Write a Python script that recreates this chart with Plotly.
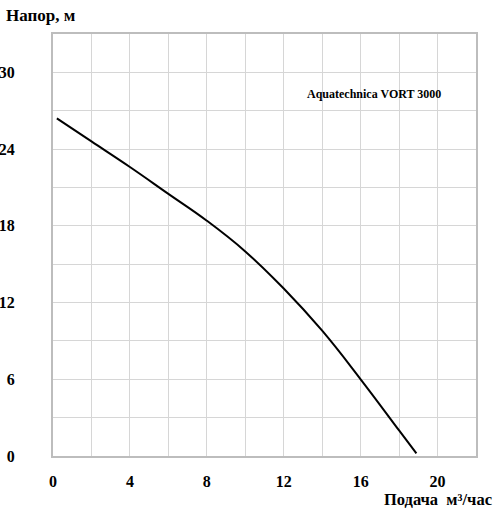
import plotly.graph_objects as go

# Pump head curve
flow = [0.2, 2, 4, 6, 8, 10, 12, 14, 16, 18, 18.9]
head = [26.4, 24.6, 22.6, 20.5, 18.4, 16.0, 13.1, 9.8, 6.0, 2.0, 0.2]

x_ticks = [0, 4, 8, 12, 16, 20]
y_ticks = [0, 6, 12, 18, 24, 30]
model_name = "Aquatechnica VORT 3000"
y_title = "Напор, м"
x_title = "Подача  м³/час"

serif = "Liberation Serif, Times New Roman, serif"
grid_color = "#d6d6d6"
frame_color = "#bdbdbd"

W, H = 495, 508
M = dict(l=53, r=19, t=34, b=52)
plot_w = W - M["l"] - M["r"]
plot_h = H - M["t"] - M["b"]


def px_x(page_x):
    return (page_x - M["l"]) / plot_w


def px_y(page_y):
    return 1 - (page_y - M["t"]) / plot_h


fig = go.Figure()

fig.add_trace(
    go.Scatter(
        x=flow,
        y=head,
        mode="lines",
        line=dict(color="black", width=2, shape="spline", smoothing=1.2),
        showlegend=False,
        hoverinfo="skip",
    )
)

# minor gridlines every 2 / 3 units, labels every 4 / 6
axis_common = dict(
    tickmode="array",
    showgrid=True,
    gridcolor=grid_color,
    gridwidth=1,
    showline=True,
    linecolor=frame_color,
    linewidth=2,
    mirror=True,
    zeroline=False,
    ticks="",
    automargin=False,
    tickfont=dict(family=serif, size=16, color="black", weight="bold"),
)
fig.update_xaxes(
    range=[0, 22],
    tickvals=x_ticks,
    ticktext=[str(v) for v in x_ticks],
    minor=dict(dtick=2, tick0=0, showgrid=True, gridcolor=grid_color, gridwidth=1),
    ticklabelstandoff=10,
    **axis_common,
)
fig.update_yaxes(
    range=[0, 33],
    tickvals=y_ticks,
    ticktext=[str(v) for v in y_ticks],
    minor=dict(dtick=3, tick0=0, showgrid=True, gridcolor=grid_color, gridwidth=1),
    ticklabelstandoff=33,
    **axis_common,
)

fig.update_layout(
    width=W,
    height=H,
    margin=M,
    paper_bgcolor="white",
    plot_bgcolor="white",
    annotations=[
        dict(
            text=model_name,
            x=16.7,
            y=28.3,
            xref="x",
            yref="y",
            showarrow=False,
            font=dict(family=serif, size=12, color="black", weight="bold"),
        ),
        dict(
            text=y_title,
            x=px_x(4),
            y=px_y(15),
            xref="paper",
            yref="paper",
            xanchor="left",
            yanchor="middle",
            showarrow=False,
            font=dict(family=serif, size=17, color="black", weight="bold"),
        ),
        dict(
            text=x_title,
            x=px_x(494),
            y=px_y(499),
            xref="paper",
            yref="paper",
            xanchor="right",
            yanchor="middle",
            showarrow=False,
            font=dict(family=serif, size=16.5, color="black", weight="bold"),
        ),
    ],
)

# drop the browser's default 8px body margin so the figure fills the window
fig.write_html(
    "out.html",
    config={"displayModeBar": False},
    post_script="document.body.style.margin = '0';",
)
